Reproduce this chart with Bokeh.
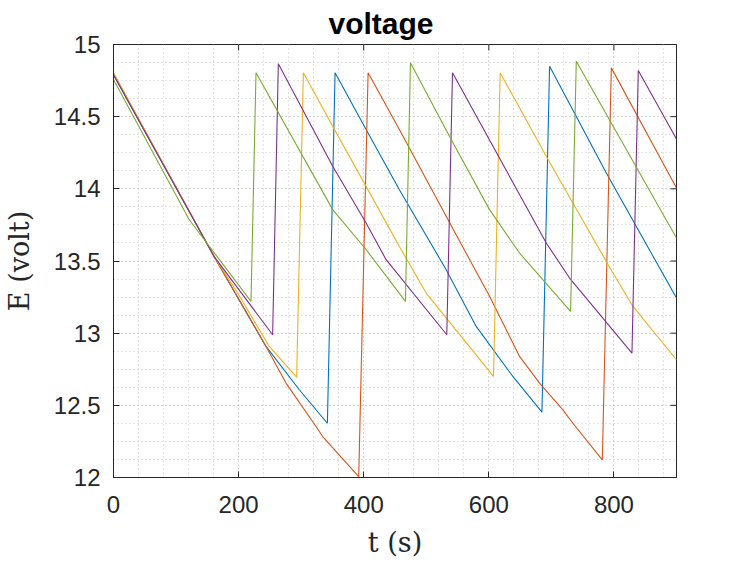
import math
from bokeh.plotting import figure
from bokeh.models import FixedTicker, Range1d
from bokeh.embed import file_html
from bokeh.resources import INLINE

# ---- data ----
blue_t = [0, 161, 243.8, 297, 341.9, 354.2, 403.8, 457, 531.8, 579.8, 638.4, 684.9, 697.1, 787.8, 900]
blue_E = [14.79, 13.53, 12.908, 12.608, 12.376, 14.804, 14.411, 13.994, 13.44, 13.047, 12.70, 12.453, 14.850, 14.110, 13.243]

orange_t = [0, 161, 243.8, 275.8, 323.8, 334.4, 392, 407, 457, 531.8, 601.1, 649.1, 681.1, 718.4, 734.4, 781.4, 795.8, 900]
orange_E = [14.80, 13.53, 12.908, 12.654, 12.353, 12.284, 12.006, 14.804, 14.411, 13.81, 13.255, 12.839, 12.654, 12.469, 12.376, 12.122, 14.838, 14.006]

yellow_t = [0, 161, 198.4, 249, 292.8, 303.5, 350.4, 403.8, 457, 499.8, 607.5, 618.1, 691.8, 734.4, 798.4, 830.4, 900]
yellow_E = [14.80, 13.53, 13.278, 12.908, 12.695, 14.804, 14.434, 14.017, 13.601, 13.278, 12.70, 14.804, 14.226, 13.902, 13.417, 13.185, 12.816]

purple_t = [0, 161, 254.4, 263.5, 350.4, 403.8, 435.8, 532.8, 541.9, 691.8, 729.1, 828.8, 838.9, 900]
purple_E = [14.79, 13.53, 12.989, 14.866, 14.156, 13.763, 13.509, 12.989, 14.804, 13.625, 13.382, 12.862, 14.82, 14.346]

green_t = [0, 121.1, 219.8, 227.8, 350.4, 404, 466.7, 474.7, 537, 601.1, 649.1, 730.7, 739.8, 900]
green_E = [14.757, 13.786, 13.22, 14.804, 13.856, 13.578, 13.22, 14.873, 14.364, 13.856, 13.555, 13.151, 14.884, 13.659]

x_min, x_max = 0, 900
y_min, y_max = 12, 15
x_ticks = [0, 200, 400, 600, 800]
x_tick_labels = ["0", "200", "400", "600", "800"]
y_ticks = [12, 12.5, 13, 13.5, 14, 14.5, 15]
y_tick_labels = ["12", "12.5", "13", "13.5", "14", "14.5", "15"]
x_minor = [40 * i for i in range(1, 23)]
y_minor = [12 + 0.125 * i for i in range(1, 24)]

series = [
    (blue_t, blue_E, "#0072BD"),
    (orange_t, orange_E, "#D95319"),
    (yellow_t, yellow_E, "#EDB120"),
    (purple_t, purple_E, "#7E2F8E"),
    (green_t, green_E, "#77AC30"),
]

AX = "#262626"
p = figure(frame_width=563, frame_height=433,
           x_range=Range1d(x_min, x_max), y_range=Range1d(y_min, y_max),
           output_backend="svg", toolbar_location=None,
           min_border_left=20, min_border_right=60,
           min_border_top=20, min_border_bottom=20,
           title="voltage")
p.background_fill_color = "white"
p.border_fill_color = "white"
p.outline_line_color = AX
p.outline_line_width = 1

p.title.text_font = "Liberation Sans"
p.title.text_font_style = "bold"
p.title.text_font_size = "30px"
p.title.text_color = "black"
p.title.align = "left"
p.title.offset = 215
p.title.standoff = 9

xt = FixedTicker(ticks=x_ticks, minor_ticks=x_minor)
yt = FixedTicker(ticks=y_ticks, minor_ticks=y_minor)

for ax in p.xaxis:
    ax.ticker = xt
    ax.major_label_overrides = {t: l for t, l in zip(x_ticks, x_tick_labels)}
    ax.axis_label = "t (s)"
    ax.major_label_standoff = 18
    ax.axis_label_standoff = 11
for ax in p.yaxis:
    ax.ticker = yt
    ax.major_label_overrides = {t: l for t, l in zip(y_ticks, y_tick_labels)}
    ax.axis_label = "E (volt)"
    ax.major_label_standoff = 13
    ax.axis_label_standoff = 16

for ax in list(p.xaxis) + list(p.yaxis):
    ax.major_tick_in = 6
    ax.major_tick_out = 0
    ax.minor_tick_in = 0
    ax.minor_tick_out = 0
    ax.axis_line_color = AX
    ax.major_tick_line_color = AX
    ax.major_label_text_font = "Liberation Sans"
    ax.major_label_text_font_size = "24px"
    ax.major_label_text_color = AX
    ax.axis_label_text_font = "DejaVu Serif"
    ax.axis_label_text_font_size = "27px"
    ax.axis_label_text_font_style = "normal"
    ax.axis_label_text_color = AX

for g, tk in ((p.xgrid, xt), (p.ygrid, yt)):
    g.ticker = tk
    g.grid_line_color = "#c8c8c8"
    g.grid_line_dash = "1 3"
    g.grid_line_width = 1
    g.minor_grid_line_color = "#c8c8c8"
    g.minor_grid_line_dash = "1 3"
    g.minor_grid_line_width = 1

for t, e, c in series:
    p.line(t, e, line_color=c, line_width=1.1)

# mirrored inward ticks on the top and right edges (half of each dash is clipped by the frame)
p.scatter(x=x_ticks, y=[y_max] * len(x_ticks), marker="dash", angle=math.pi / 2,
          size=12, line_color=AX, line_width=1)
p.scatter(x=[x_max] * len(y_ticks), y=y_ticks, marker="dash",
          size=12, line_color=AX, line_width=1)

open("out.html", "w").write(file_html(p, INLINE))
